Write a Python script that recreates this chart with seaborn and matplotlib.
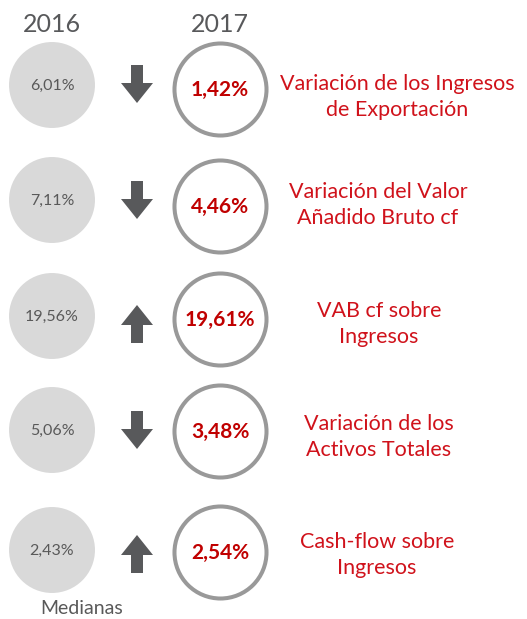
import pandas as pd
import numpy as np
import matplotlib.pyplot as plt
import seaborn as sns

# datos (medianas)
indicadores = ["Variación de los Ingresos\nde Exportación",
               "Variación del Valor\nAñadido Bruto cf",
               "VAB cf sobre\nIngresos",
               "Variación de los\nActivos Totales",
               "Cash-flow sobre\nIngresos"]
v2016 = [6.01, 7.11, 19.56, 5.06, 2.43]
v2017 = [1.42, 4.46, 19.61, 3.48, 2.54]
anios = ["2016", "2017"]

# posiciones (pixeles)
y_gris = [85, 200, 316, 430, 550]
y_aro = [89, 206, 319, 431, 552]
y_flecha = [84, 200, 324, 430, 554]
y_texto = [97, 205, 324, 437, 555]
x_texto = [397, 378, 379, 379, 377]
x_gris, x_flecha, x_aro = 52, 137, 220

def fmt(v):
    return f"{v:.2f}".replace('.', ',') + "%"

sns.set_style("white")
plt.rcParams['font.family'] = ['Lato', 'DejaVu Sans']

fig = plt.figure(figsize=(5.27, 6.19), dpi=100)
ax = fig.add_axes([0, 0, 1, 1])
ax.set_xlim(0, 527)
ax.set_ylim(619, 0)
ax.axis('off')

df = pd.DataFrame({"x16": x_gris, "y16": y_gris, "x17": x_aro, "y17": y_aro})

# circulos 2016 (relleno gris) y 2017 (aro)
sns.scatterplot(data=df, x="x16", y="y16", s=3830, color="#d9d9d9",
                edgecolor="none", ax=ax, legend=False)
sns.scatterplot(data=df, x="x17", y="y17", s=4390, color="white",
                edgecolor="#999999", linewidth=2.9, ax=ax, legend=False)
ax.set_xlabel('')
ax.set_ylabel('')

gris = "#58595b"
rojo = "#c00000"

ax.text(x_gris, 25, anios[0], ha='center', va='center', fontsize=18, color=gris)
ax.text(x_aro, 24, anios[1], ha='center', va='center', fontsize=18, color=gris)

for i in range(len(v2016)):
    ax.text(x_gris, y_gris[i] + 1, fmt(v2016[i]), ha='center', va='center',
            fontsize=11.5, color="#595959")
    ax.text(x_aro, y_aro[i] + 1, fmt(v2017[i]), ha='center', va='center',
            fontsize=15, color=rojo, fontweight='bold')
    ax.text(x_texto[i], y_texto[i], indicadores[i], ha='center', va='center',
            fontsize=15.5, color="#d0121b", linespacing=1.32)
    # flecha segun la variacion
    sube = v2017[i] > v2016[i]
    largo = 38
    y0 = y_flecha[i] + largo / 2 if sube else y_flecha[i] - largo / 2
    dy = -largo if sube else largo
    ax.arrow(x_flecha, y0, 0, dy, width=12, head_width=32, head_length=20,
             length_includes_head=True, color=gris, lw=0)

ax.text(82, 609, "Medianas", ha='center', va='center', fontsize=14, color="#595959")

plt.savefig("out.png", dpi=100)
